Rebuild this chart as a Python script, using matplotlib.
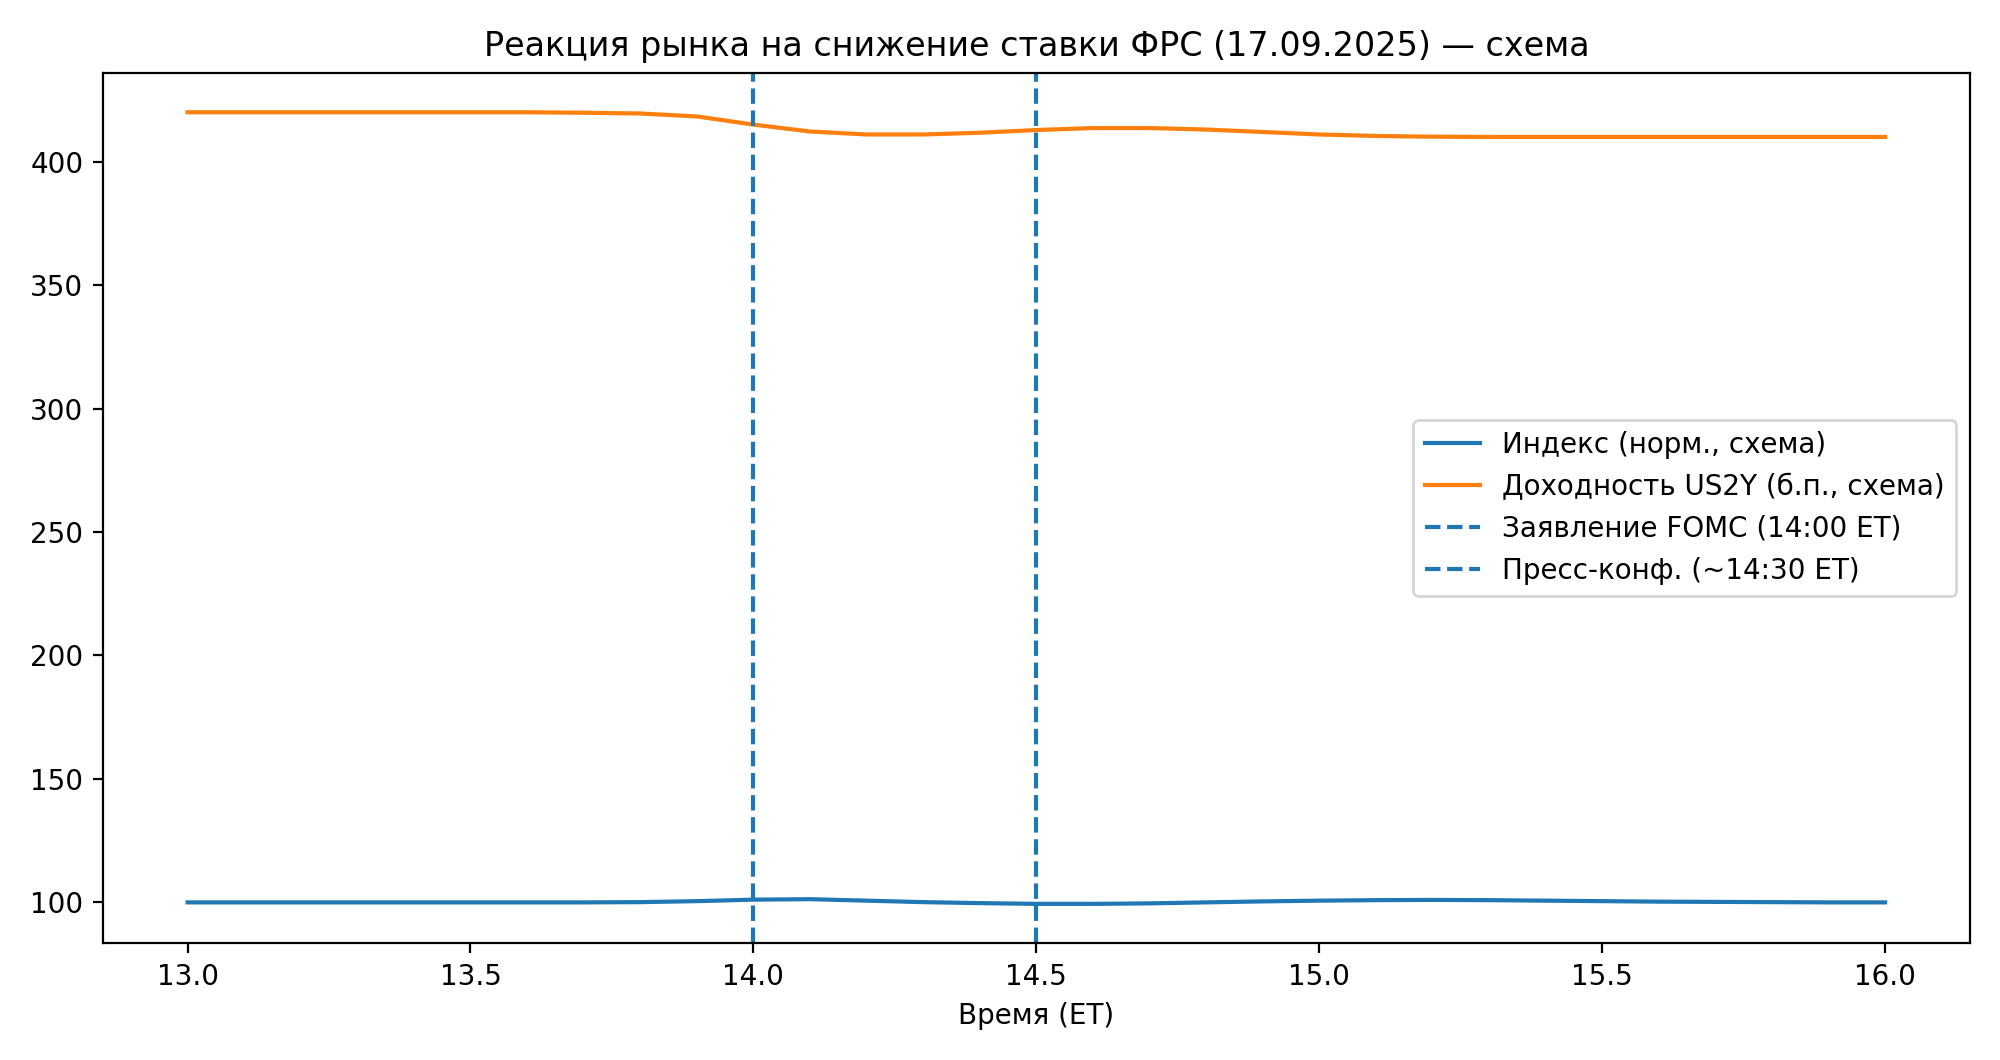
import matplotlib
matplotlib.use("Agg")
import matplotlib.pyplot as plt

t = [13.0,13.1,13.2,13.3,13.4,13.5,13.6,13.7,13.8,13.9,14.0,14.1,14.2,14.3,14.4,14.5,14.6,14.7,14.8,14.9,15.0,15.1,15.2,15.3,15.4,15.5,15.6,15.7,15.8,15.9,16.0]
index_vals = [100,100,100,100,100,100,100,100,100.1,100.5,101.1,101.3,100.7,100.1,99.7,99.4,99.4,99.6,100.0,100.4,100.7,100.9,101.0,100.9,100.7,100.5,100.3,100.2,100.1,100.0,100.0]
yield_vals = [420,420,420,420,420,420,420,419.8,419.5,418.3,415,412.2,411,411,411.7,412.8,413.6,413.6,413,412,411,410.4,410.1,410,410,410,410,410,410,410,410]
events = [14.0, 14.5]
event_labels = ["Заявление FOMC (14:00 ET)", "Пресс-конф. (~14:30 ET)"]

fig, ax = plt.subplots(figsize=(10, 5.3), dpi=200)
ax.plot(t, index_vals, label="Индекс (норм., схема)")
ax.plot(t, yield_vals, label="Доходность US2Y (б.п., схема)")
for x, lab in zip(events, event_labels):
    ax.axvline(x, linestyle="--", label=lab)
ax.set_title("Реакция рынка на снижение ставки ФРС (17.09.2025) — схема")
ax.set_xlabel("Время (ET)")
ax.legend(loc="center right")
fig.tight_layout()
fig.savefig("out.png", dpi=200)
